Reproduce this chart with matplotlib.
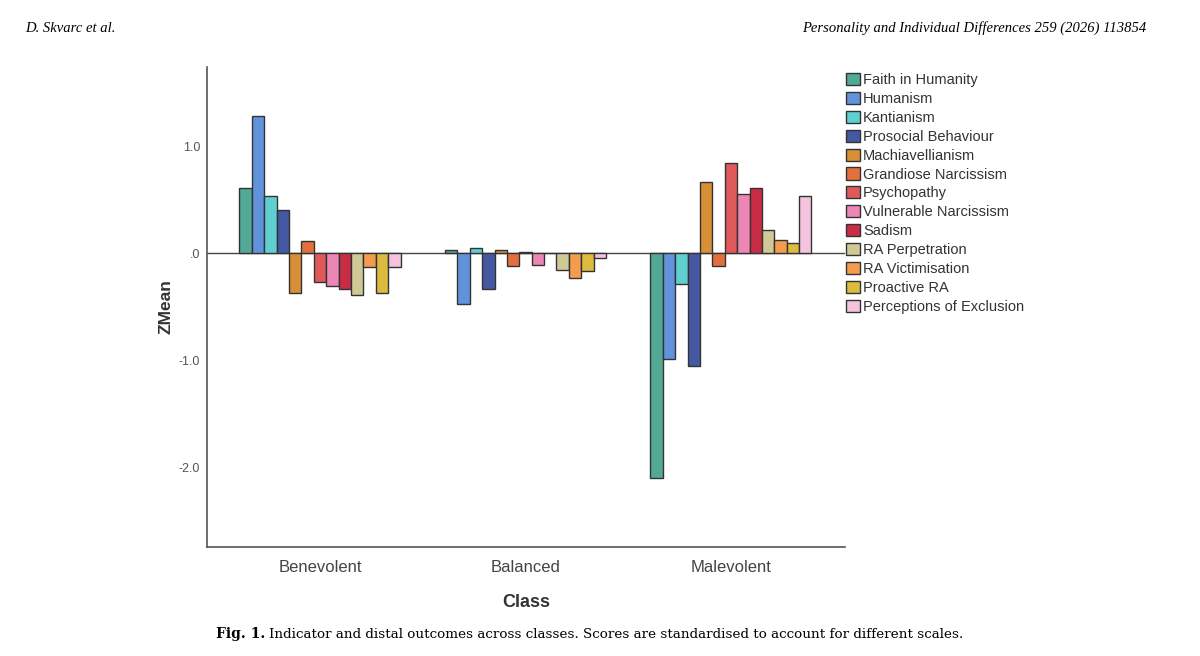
import matplotlib
matplotlib.use("Agg")
import matplotlib.pyplot as plt
import numpy as np

classes = ["Benevolent", "Balanced", "Malevolent"]
series = ["Faith in Humanity", "Humanism", "Kantianism", "Prosocial Behaviour",
          "Machiavellianism", "Grandiose Narcissism", "Psychopathy",
          "Vulnerable Narcissism", "Sadism", "RA Perpetration",
          "RA Victimisation", "Proactive RA", "Perceptions of Exclusion"]

benevolent = [0.61, 1.28, 0.54, 0.40, -0.37, 0.115, -0.27, -0.31, -0.33, -0.39, -0.13, -0.37, -0.13]
balanced = [0.035, -0.47, 0.05, -0.33, 0.03, -0.115, 0.01, -0.105, 0.0, -0.16, -0.23, -0.17, -0.04]
malevolent = [-2.10, -0.99, -0.29, -1.05, 0.67, -0.115, 0.84, 0.555, 0.61, 0.22, 0.127, 0.10, 0.54]

colors = ["#52a996", "#6192dc", "#5fd0cf", "#4558a2", "#d88f35", "#e2703d",
          "#e0595a", "#ec86b4", "#c92d45", "#d0c896", "#f39c4e", "#dcbb3f", "#f5c3dd"]

yticks = [1.0, 0.0, -1.0, -2.0]
ytick_labels = ["1.0", ".0", "-1.0", "-2.0"]

values = np.array([benevolent, balanced, malevolent])

fig = plt.figure(figsize=(12, 6.56), dpi=100)
ax = fig.add_axes([207/1200, 1-547/656, (845-207)/1200, (547-67)/656])

x = np.arange(len(classes))
w = 0.0603
n = len(series)
handles = []
for i, name in enumerate(series):
    b = ax.bar(x + (i - (n-1)/2) * w, values[:, i], width=w, color=colors[i],
               edgecolor="#333333", linewidth=1.0, label=name, zorder=3)
    handles.append(b)

ax.axhline(0, color="#444444", linewidth=1.0, zorder=2)
ax.set_xlim(-0.55, 2.555)
ax.set_ylim(-2.745, 1.741)
ax.set_yticks(yticks)
ax.set_yticklabels(ytick_labels, fontsize=9, color="#555555", family="Liberation Sans")
ax.set_xticks(x)
ax.set_xticklabels(classes, fontsize=12, color="#444444", family="Liberation Sans")
ax.tick_params(axis="both", length=0)
ax.tick_params(axis="y", pad=5)
ax.tick_params(axis="x", pad=9)
for s in ["top", "right"]:
    ax.spines[s].set_visible(False)
for s in ["left", "bottom"]:
    ax.spines[s].set_color("#555555")
    ax.spines[s].set_linewidth(1.2)

ax.set_xlabel("Class", fontsize=13, fontweight="bold", color="#333333",
              family="Liberation Sans", labelpad=14)
ax.set_ylabel("ZMean", fontsize=12.5, fontweight="bold", color="#333333",
              family="Liberation Sans", labelpad=4)

leg = fig.legend(handles=handles, labels=series, loc="upper left",
                 bbox_to_anchor=(846/1200, 1-73/656), frameon=False,
                 prop={"family": "Liberation Sans", "size": 10.5},
                 handlelength=0.95, handleheight=0.9, handletextpad=0.22,
                 labelspacing=0.33, borderaxespad=0, borderpad=0)
for t in leg.get_texts():
    t.set_color("#333333")

fig.text(25/1200, 1-28/656, "D. Skvarc et al.", fontsize=10.5, style="italic",
         family="Liberation Serif", ha="left", va="center")
fig.text(1146/1200, 1-28/656, "Personality and Individual Differences 259 (2026) 113854",
         fontsize=10.5, style="italic", family="Liberation Serif", ha="right", va="center")
fig.text(216/1200, 1-634/656, "Fig. 1.", fontsize=10, family="DejaVu Serif",
         fontweight="bold", ha="left", va="center")
fig.text(269/1200, 1-634/656,
         "Indicator and distal outcomes across classes. Scores are standardised to account for different scales.",
         fontsize=9.7, family="DejaVu Serif", ha="left", va="center")

fig.savefig("out.png", dpi=100, facecolor="white")
